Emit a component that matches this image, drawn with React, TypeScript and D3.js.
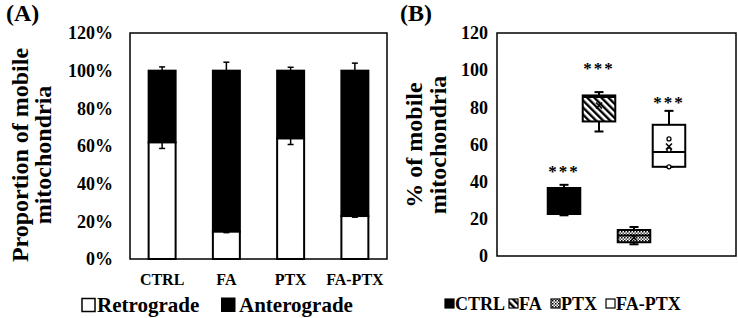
import React from "react";
import * as d3 from "d3";

// ---------- Panel A data ----------
const categories = ["CTRL", "FA", "PTX", "FA-PTX"];
const retrograde = [61.9, 14.5, 64.0, 22.8];
const retrogradeErr = [3.2, 0.5, 3.2, 0.6];
const anterogradeErr = [2.0, 4.5, 1.8, 4.0];
const percentTicks = [0, 20, 40, 60, 80, 100, 120];
const legendA = ["Retrograde", "Anterograde"];

// ---------- Panel B data ----------
const boxSeries = ["CTRL", "FA", "PTX", "FA-PTX"];
const boxMin = [21.9, 67.0, 6.3, 48.0];
const boxQ1 = [22.6, 72.4, 7.4, 48.0];
const boxMedian = [28.0, 85.5, 11.0, 56.0];
const boxQ3 = [36.6, 86.4, 14.0, 70.6];
const boxMax = [38.3, 88.2, 15.6, 78.1];
const boxMean = [29.0, 81.0, 9.8, 58.9];
const innerPoints: number[][] = [[], [], [], [63, 57, 48]];
const sigLabels = ["***", "***", "", "***"];
const sigY = [46.7, 102, 0, 83.7];
const countTicks = [0, 20, 40, 60, 80, 100, 120];
const boxFills = ["#000", "url(#stripes)", "url(#checker)", "#fff"];

const FONT = "'Liberation Serif', 'Times New Roman', serif";

export default function App() {
  // Panel A layout
  const A = { left: 130, right: 387, top: 33, bottom: 259 };
  const xA = d3.scaleBand<string>().domain(categories).range([A.left, A.right]).paddingInner(0.58).paddingOuter(0.29);
  const yA = d3.scaleLinear().domain([0, 120]).range([A.bottom, A.top]);

  // Panel B layout
  const B = { left: 497, right: 736, top: 33, bottom: 256 };
  const xB = d3.scaleBand<string>().domain(boxSeries).range([B.left, B.right]).paddingInner(0.07).paddingOuter(1.45);
  const yB = d3.scaleLinear().domain([0, 120]).range([B.bottom, B.top]);

  const bwA = xA.bandwidth();
  const bwB = xB.bandwidth();

  const errBar = (cx: number, y0: number, y1: number, key: string) => (
    <g key={key} stroke="#000" strokeWidth={1.5}>
      <line x1={cx} x2={cx} y1={y0} y2={y1} />
      <line x1={cx - 3} x2={cx + 3} y1={y0} y2={y0} />
      <line x1={cx - 3} x2={cx + 3} y1={y1} y2={y1} />
    </g>
  );

  const legendBItems = [
    { icon: 445, text: 455 },
    { icon: 509, text: 519 },
    { icon: 551, text: 561 },
    { icon: 606, text: 616 },
  ];

  return (
    <svg width={738} height={318} style={{ position: "fixed", left: 0, top: 0, background: "#fff" }} fontFamily={FONT} fontWeight="bold">
      <defs>
        <pattern id="stripes" width={5} height={5} patternUnits="userSpaceOnUse" patternTransform="rotate(-45)">
          <rect width={5} height={5} fill="#fff" />
          <rect width={2.4} height={5} fill="#000" />
        </pattern>
        <pattern id="checker" width={3} height={3} patternUnits="userSpaceOnUse">
          <rect width={3} height={3} fill="#fff" />
          <rect width={1.5} height={1.5} fill="#000" />
          <rect x={1.5} y={1.5} width={1.5} height={1.5} fill="#555" />
        </pattern>
      </defs>
      <rect width={738} height={318} fill="#fff" />

      {/* ================= Panel A ================= */}
      <text x={6} y={21} fontSize={24}>(A)</text>

      {percentTicks.map((t) => (
        <text key={t} x={113} y={yA(t)} dy="0.35em" textAnchor="end" fontSize={18}>{t}%</text>
      ))}

      <text transform={`translate(28,155) rotate(-90)`} textAnchor="middle" fontSize={24}>Proportion of mobile</text>
      <text transform={`translate(51,155) rotate(-90)`} textAnchor="middle" fontSize={24}>mitochondria</text>

      {categories.map((c, i) => {
        const x = xA(c)!;
        return (
          <g key={c}>
            <rect x={x} y={yA(100)} width={bwA} height={yA(retrograde[i]) - yA(100)} fill="#000" stroke="#000" strokeWidth={2} />
            <rect x={x} y={yA(retrograde[i])} width={bwA} height={yA(0) - yA(retrograde[i])} fill="#fff" stroke="#000" strokeWidth={2} />
          </g>
        );
      })}
      {categories.map((c, i) => {
        const cx = xA(c)! + bwA / 2;
        return (
          <g key={c + "e"}>
            {errBar(cx, yA(retrograde[i] - retrogradeErr[i]), yA(retrograde[i] + retrogradeErr[i]), "r")}
            {errBar(cx, yA(100 - anterogradeErr[i]), yA(100 + anterogradeErr[i]), "a")}
          </g>
        );
      })}

      <rect x={A.left} y={A.top} width={A.right - A.left} height={A.bottom - A.top} fill="none" stroke="#000" strokeWidth={1.5} />

      {categories.map((c) => (
        <text key={c + "l"} x={xA(c)! + bwA / 2} y={285} textAnchor="middle" fontSize={16}>{c}</text>
      ))}

      {/* legend A */}
      <rect x={82} y={298.5} width={13} height={13} fill="#fff" stroke="#000" strokeWidth={1.5} />
      <text x={97} y={312} fontSize={21}>{legendA[0]}</text>
      <rect x={221} y={297.5} width={14.5} height={14.5} fill="#000" />
      <text x={239} y={312} fontSize={21}>{legendA[1]}</text>

      {/* ================= Panel B ================= */}
      <text x={400} y={21} fontSize={24}>(B)</text>

      {countTicks.map((t) => (
        <text key={t} x={488} y={yB(t)} dy="0.35em" textAnchor="end" fontSize={18}>{t}</text>
      ))}

      <text transform={`translate(422,145) rotate(-90)`} textAnchor="middle" fontSize={24}>% of mobile</text>
      <text transform={`translate(446,145) rotate(-90)`} textAnchor="middle" fontSize={24}>mitochondria</text>

      {boxSeries.map((s, i) => {
        const x = xB(s)!;
        const cx = x + bwB / 2;
        const capW = 9;
        const m = yB(boxMean[i]);
        return (
          <g key={s} stroke="#000" strokeWidth={2}>
            <line x1={cx} x2={cx} y1={yB(boxMax[i])} y2={yB(boxQ3[i])} />
            <line x1={cx} x2={cx} y1={yB(boxQ1[i])} y2={yB(boxMin[i])} />
            <line x1={cx - capW / 2} x2={cx + capW / 2} y1={yB(boxMax[i])} y2={yB(boxMax[i])} />
            <line x1={cx - capW / 2} x2={cx + capW / 2} y1={yB(boxMin[i])} y2={yB(boxMin[i])} />
            <rect x={x} y={yB(boxQ3[i])} width={bwB} height={yB(boxQ1[i]) - yB(boxQ3[i])} fill={boxFills[i]} />
            <line x1={x} x2={x + bwB} y1={yB(boxMedian[i])} y2={yB(boxMedian[i])} />
            <g strokeWidth={1.5}>
              <line x1={cx - 3} x2={cx + 3} y1={m - 3} y2={m + 3} />
              <line x1={cx - 3} x2={cx + 3} y1={m + 3} y2={m - 3} />
            </g>
            {innerPoints[i].map((p, j) => (
              <circle key={j} cx={cx} cy={yB(p)} r={2} fill="#fff" strokeWidth={1.3} />
            ))}
          </g>
        );
      })}

      {boxSeries.map((s, i) =>
        sigLabels[i] ? (
          <text key={s + "sig"} x={xB(s)! + bwB / 2} y={yB(sigY[i])} dy="0.47em" textAnchor="middle" fontSize={17} letterSpacing={2}>
            {sigLabels[i]}
          </text>
        ) : null
      )}

      <rect x={B.left} y={B.top} width={B.right - B.left} height={B.bottom - B.top} fill="none" stroke="#000" strokeWidth={1.5} />

      {/* legend B */}
      {boxSeries.map((s, i) => (
        <g key={s + "lg"}>
          <rect x={legendBItems[i].icon} y={299} width={9} height={9} fill={boxFills[i]} stroke="#000" strokeWidth={1.2} />
          <text x={legendBItems[i].text} y={310} fontSize={18}>{s}</text>
        </g>
      ))}
    </svg>
  );
}
